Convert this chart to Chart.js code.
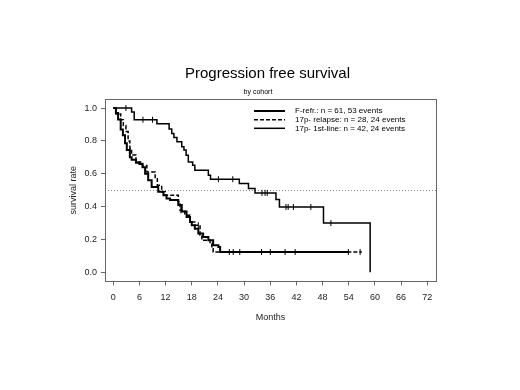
<!DOCTYPE html>
<html>
<head>
<meta charset="utf-8">
<title>Progression free survival</title>
<script src="https://cdn.jsdelivr.net/npm/chart.js@4.4.1/dist/chart.umd.min.js"></script>
<style>
  html, body { margin: 0; padding: 0; background: #fff; }
  #wrap { width: 520px; height: 390px; }
</style>
</head>
<body>
<div id="wrap"><canvas id="kmChart" width="520" height="390"></canvas></div>
<script>
// Curvas de Kaplan-Meier (meses, supervivencia)
const frefrMonths = [0, 0.6, 1.1, 1.7, 2.2, 2.7, 3.1, 3.8, 4.2, 5.2, 6.0, 6.7, 7.3, 8.0, 8.8, 10.3, 11.5, 12.2, 13.0, 14.9, 15.7, 16.8, 17.6, 18.0, 18.7, 19.5, 20.6, 21.8, 22.9, 24.1, 24.5, 53.9];
const frefrSurv   = [1.0, 0.97, 0.93, 0.87, 0.835, 0.785, 0.745, 0.70, 0.685, 0.667, 0.66, 0.64, 0.60, 0.56, 0.52, 0.49, 0.47, 0.45, 0.44, 0.41, 0.37, 0.337, 0.307, 0.287, 0.266, 0.236, 0.215, 0.195, 0.165, 0.154, 0.124, 0.124];
const frefrCensor = [26.6, 27.5, 34.0, 39.4, 41.7, 53.9];

const relapseMonths = [0, 0.6, 1.7, 2.3, 2.9, 3.4, 3.8, 4.2, 5.2, 6.7, 7.7, 9.6, 10.1, 11.1, 11.9, 14.9, 15.3, 16.4, 17.6, 18.7, 19.9, 20.3, 22.2, 22.6, 22.9, 57.0];
const relapseSurv   = [1.0, 0.964, 0.929, 0.893, 0.857, 0.80, 0.754, 0.714, 0.672, 0.65, 0.61, 0.57, 0.53, 0.49, 0.47, 0.43, 0.378, 0.348, 0.307, 0.287, 0.226, 0.195, 0.175, 0.144, 0.124, 0.124];
const relapseCensor = [15.5, 19.5, 29.0, 36.0, 56.6];

const firstLineMonths = [0, 4.2, 4.8, 10.0, 12.8, 13.4, 13.9, 14.6, 15.7, 16.2, 16.7, 17.2, 18.2, 18.7, 21.8, 22.3, 28.9, 31.0, 32.5, 37.3, 38.1, 48.2, 58.9];
const firstLineSurv   = [1.0, 0.976, 0.929, 0.905, 0.872, 0.845, 0.82, 0.795, 0.764, 0.744, 0.713, 0.672, 0.652, 0.622, 0.591, 0.567, 0.541, 0.51, 0.4835, 0.443, 0.398, 0.30, 0.0];
const firstLineCensor = [2.9, 6.8, 9.0, 24.1, 27.4, 34.1, 34.8, 35.3, 39.6, 40.1, 41.3, 45.3, 49.9];

const seriesLabels = ['F-refr.: n = 61, 53 events', '17p- relapse: n = 28, 24 events', '17p- 1st-line: n = 42, 24 events'];
const xTicks = [0, 6, 12, 18, 24, 30, 36, 42, 48, 54, 60, 66, 72];
const yTicks = [0, 0.2, 0.4, 0.6, 0.8, 1.0];
const medianLine = 0.5;

const FONT = "'Liberation Sans', Arial, sans-serif";

// valor de la curva escalonada en el tiempo t
function survAt(months, surv, t) {
    let v = surv[0];
    for (let i = 0; i < months.length; i++) {
        if (months[i] <= t) v = surv[i];
    }
    return v;
}

function stepData(months, surv) {
    return months.map((m, i) => ({ x: m, y: surv[i] }));
}

function censorData(months, surv, times) {
    return times.map(t => ({ x: t, y: survAt(months, surv, t) }));
}

const lineStyles = [
    { width: 2, dash: [] },
    { width: 1.5, dash: [4, 2] },
    { width: 1.5, dash: [] }
];

function curve(label, months, surv, style) {
    return {
        type: 'line',
        label: label,
        data: stepData(months, surv),
        borderColor: '#000',
        borderWidth: style.width,
        borderDash: style.dash,
        stepped: 'before',
        pointRadius: 0,
        fill: false,
        tension: 0
    };
}

function censors(months, surv, times) {
    return {
        type: 'scatter',
        label: 'censor',
        data: censorData(months, surv, times),
        pointStyle: 'line',
        rotation: 90,
        radius: 3,
        borderColor: '#000',
        borderWidth: 1,
        backgroundColor: '#000',
        showLine: false
    };
}

// caja, línea de mediana, títulos y leyenda
const decorPlugin = {
    id: 'decor',
    beforeDatasetsDraw(chart) {
        const ctx = chart.ctx;
        const a = chart.chartArea;
        const y = chart.scales.y.getPixelForValue(medianLine);
        ctx.save();
        ctx.strokeStyle = '#888';
        ctx.lineWidth = 1;
        ctx.setLineDash([1, 2]);
        ctx.beginPath();
        ctx.moveTo(a.left, Math.round(y) + 0.5);
        ctx.lineTo(a.right, Math.round(y) + 0.5);
        ctx.stroke();
        ctx.restore();
    },
    afterDraw(chart) {
        const ctx = chart.ctx;
        const a = chart.chartArea;
        ctx.save();
        ctx.strokeStyle = '#666';
        ctx.lineWidth = 1;
        ctx.strokeRect(Math.round(a.left) + 0.5, Math.round(a.top) + 0.5, Math.round(a.right - a.left), Math.round(a.bottom - a.top));

        ctx.fillStyle = '#000';
        ctx.textAlign = 'center';
        ctx.textBaseline = 'middle';
        ctx.font = '15px ' + FONT;
        ctx.fillText('Progression free survival', 267.5, 74);
        ctx.font = '7px ' + FONT;
        ctx.fillText('by cohort', 258, 92.5);

        // leyenda
        const lx0 = 254, lx1 = 285, tx = 295;
        const rows = [111, 119.7, 128.3];
        ctx.font = '8px ' + FONT;
        ctx.textAlign = 'left';
        seriesLabels.forEach((lab, i) => {
            ctx.strokeStyle = '#000';
            ctx.lineWidth = lineStyles[i].width;
            ctx.setLineDash(lineStyles[i].dash);
            ctx.beginPath();
            ctx.moveTo(lx0, rows[i]);
            ctx.lineTo(lx1, rows[i]);
            ctx.stroke();
            ctx.setLineDash([]);
            ctx.fillText(lab, tx, rows[i]);
        });
        ctx.restore();
    }
};

const canvas = document.getElementById('kmChart');
new Chart(canvas.getContext('2d'), {
    data: {
        datasets: [
            curve(seriesLabels[0], frefrMonths, frefrSurv, lineStyles[0]),
            curve(seriesLabels[1], relapseMonths, relapseSurv, lineStyles[1]),
            curve(seriesLabels[2], firstLineMonths, firstLineSurv, lineStyles[2]),
            censors(frefrMonths, frefrSurv, frefrCensor),
            censors(relapseMonths, relapseSurv, relapseCensor),
            censors(firstLineMonths, firstLineSurv, firstLineCensor)
        ]
    },
    options: {
        responsive: false,
        animation: false,
        events: [],
        layout: {
            padding: { top: 99, right: 84, bottom: 67, left: 68 }
        },
        plugins: {
            legend: { display: false },
            tooltip: { enabled: false }
        },
        scales: {
            x: {
                type: 'linear',
                min: -1.9,
                max: 74,
                afterBuildTicks: s => { s.ticks = xTicks.map(v => ({ value: v })); },
                grid: { drawOnChartArea: false, drawTicks: true, tickLength: 4, color: '#666' },
                border: { display: false },
                ticks: { color: '#222', padding: 7, maxRotation: 0, font: { family: FONT, size: 9 } },
                title: { display: true, text: 'Months', color: '#222', padding: { top: 2, bottom: 0 }, font: { family: FONT, size: 9 } }
            },
            y: {
                type: 'linear',
                min: -0.055,
                max: 1.055,
                afterBuildTicks: s => { s.ticks = yTicks.map(v => ({ value: v })); },
                afterFit: s => { s.width = 37; },
                grid: { drawOnChartArea: false, drawTicks: true, tickLength: 4, color: '#666' },
                border: { display: false },
                ticks: { color: '#222', padding: 4, callback: v => v.toFixed(1), font: { family: FONT, size: 9 } },
                title: { display: true, text: 'survival rate', color: '#222', padding: { top: 0, bottom: 0 }, font: { family: FONT, size: 9 } }
            }
        }
    },
    plugins: [decorPlugin]
});
</script>
</body>
</html>
